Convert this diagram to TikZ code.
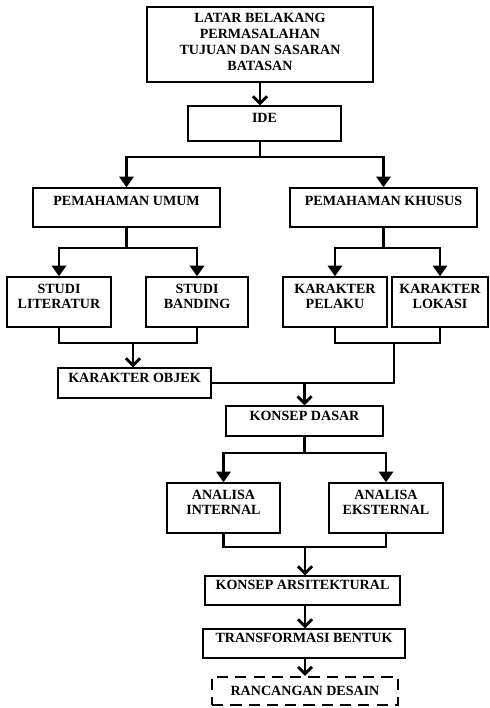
\documentclass[tikz,border=0pt]{standalone}
\usepackage{fontspec}
\setmainfont{Liberation Serif}
\usetikzlibrary{arrows.meta,positioning}

\begin{document}
\begin{tikzpicture}[x=0.025cm, y=-0.025cm,
	kotak/.style={draw, line width=1pt, align=center, inner sep=1pt, text depth=8pt,
		font=\fontsize{10}{11.3}\selectfont\bfseries},
	garis/.style={line width=2pt},
	cabang/.style={garis, -{Triangle[length=7.5pt,width=10pt]}},
	gabung/.style={garis, -{Straight Barb[length=5pt,width=10pt]}}]
	\useasboundingbox (0,0) rectangle (490,708);
	% kotak
	\node[kotak, minimum width=5.65cm, minimum height=1.875cm, text depth=4pt] (latar) at (260,44.5)
		{LATAR BELAKANG\\PERMASALAHAN\\TUJUAN DAN SASARAN\\BATASAN};
	\node[kotak, minimum width=3.825cm, minimum height=0.875cm] (ide) at (264.5,123.5) {IDE};
	\node[kotak, minimum width=4.675cm, minimum height=0.975cm, text depth=10pt] (umum) at (126.5,207.5) {PEMAHAMAN UMUM};
	\node[kotak, minimum width=4.675cm, minimum height=0.975cm, text depth=10pt] (khusus) at (383.5,207.5) {PEMAHAMAN KHUSUS};
	\node[kotak, minimum width=2.6cm, minimum height=1.25cm] (literatur) at (59,302) {STUDI\\LITERATUR};
	\node[kotak, minimum width=2.55cm, minimum height=1.25cm] (banding) at (197,302) {STUDI\\BANDING};
	\node[kotak, minimum width=2.6cm, minimum height=1.25cm] (pelaku) at (335,302) {KARAKTER\\PELAKU};
	\node[kotak, minimum width=2.4cm, minimum height=1.25cm] (lokasi) at (440,302) {KARAKTER\\LOKASI};
	\node[kotak, minimum width=3.825cm, minimum height=0.75cm] (objek) at (134.5,383) {KARAKTER OBJEK};
	\node[kotak, minimum width=3.925cm, minimum height=0.75cm] (dasar) at (304.5,421) {KONSEP DASAR};
	\node[kotak, minimum width=2.825cm, minimum height=1.25cm] (internal) at (223.5,508) {ANALISA\\INTERNAL};
	\node[kotak, minimum width=2.85cm, minimum height=1.25cm] (eksternal) at (386,508) {ANALISA\\EKSTERNAL};
	\node[kotak, minimum width=4.875cm, minimum height=0.725cm] (arsitektural) at (302.5,590.5) {KONSEP ARSITEKTURAL};
	\node[kotak, minimum width=5.05cm, minimum height=0.725cm] (transformasi) at (304,643.5) {TRANSFORMASI BENTUK};
	\node[kotak, minimum width=4.65cm, minimum height=0.7cm, text depth=0pt, line width=1.5pt,
		dash pattern=on 8pt off 5pt] (rancangan) at (305,691) {RANCANGAN DESAIN};
	% titik cabang
	\coordinate (s1) at (260,157);
	\coordinate (s2) at (126.5,248);
	\coordinate (s3) at (383.5,248);
	\coordinate (m1) at (133,343);
	\coordinate (m2) at (394,343);
	\coordinate (s4) at (304.5,453);
	\coordinate (m3) at (305,547);
	% garis
	\draw[gabung] (latar.south) -- (latar.south |- ide.north);
	\draw[garis] (ide.south -| s1) -- (s1);
	\draw[cabang] (s1) -| (umum.north);
	\draw[cabang] (s1) -| (khusus.north);
	\draw[garis] (umum.south) -- (s2);
	\draw[cabang] (s2) -| (literatur.north);
	\draw[cabang] (s2) -| (banding.north);
	\draw[garis] (khusus.south) -- (s3);
	\draw[cabang] (s3) -| (pelaku.north);
	\draw[cabang] (s3) -| (lokasi.north);
	\draw[garis] (literatur.south) |- (m1) -| (banding.south);
	\draw[gabung] (m1) -- (m1 |- objek.north);
	\draw[garis] (pelaku.south) |- (m2) -| (lokasi.south);
	\draw[garis] (m2) |- (objek.east);
	\draw[gabung] (dasar.north |- objek.east) -- (dasar.north);
	\draw[garis] (dasar.south) -- (s4);
	\draw[cabang] (s4) -| (internal.north);
	\draw[cabang] (s4) -| (eksternal.north);
	\draw[garis] (internal.south) |- (m3) -| (eksternal.south);
	\draw[gabung] (m3) -- (m3 |- arsitektural.north);
	\draw[gabung] (arsitektural.south -| m3) -- (m3 |- transformasi.north);
	\draw[gabung] (transformasi.south -| m3) -- (m3 |- rancangan.north);
\end{tikzpicture}
\end{document}
